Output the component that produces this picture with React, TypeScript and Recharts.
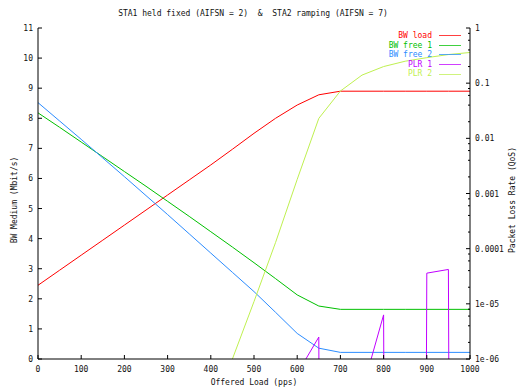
import React from "react";
import { LineChart, Line, XAxis, YAxis, Legend } from "recharts";

// offered load steps (pps)
const loads = [0, 50, 100, 150, 200, 250, 300, 350, 400, 450, 500, 550, 600, 650, 700, 750, 800, 850, 900, 950, 1000];

// left axis, Mbit/s
const bwLoad = [2.45, 2.95, 3.45, 3.95, 4.45, 4.95, 5.45, 5.95, 6.45, 6.97, 7.5, 8.0, 8.44, 8.78, 8.9, 8.9, 8.9, 8.9, 8.9, 8.9, 8.9];
const bwFree1 = [8.18, 7.7, 7.21, 6.72, 6.23, 5.74, 5.24, 4.74, 4.23, 3.72, 3.2, 2.67, 2.13, 1.76, 1.65, 1.65, 1.65, 1.65, 1.65, 1.65, 1.65];
const bwFree2 = [8.52, 7.91, 7.3, 6.68, 6.06, 5.43, 4.8, 4.16, 3.52, 2.88, 2.24, 1.55, 0.85, 0.36, 0.22, 0.22, 0.22, 0.22, 0.22, 0.22, 0.22];

// right axis, packet loss rate (log). ~zero loss falls far below the axis floor
const NO_LOSS = 1e-100;
const plr1 = [null, null, null, null, null, null, null, null, null, null, null, null, 5.4e-7, 2.5e-6, NO_LOSS, 2.6e-7, 6.3e-6, NO_LOSS, 3.6e-5, 4.2e-5, NO_LOSS];
const plr2 = [null, null, null, null, null, null, null, null, null, 1e-6, 1.1e-5, 1.3e-4, 1.8e-3, 0.023, 0.072, 0.14, 0.2, 0.25, 0.29, 0.33, 0.36];

const xTicks = [0, 100, 200, 300, 400, 500, 600, 700, 800, 900, 1000];
const bwTicks = [0, 1, 2, 3, 4, 5, 6, 7, 8, 9, 10, 11];
const plrMajor = [1, 0.1, 0.01, 0.001, 0.0001, 0.00001, 0.000001];
const plrMajorLabels = ["1", "0.1", "0.01", "0.001", "0.0001", "1e-05", "1e-06"];
const plrMinorSteps = [2, 4, 6, 8];
const plrMinor = plrMajor.slice(1).flatMap((d) => plrMinorSteps.map((m) => m * d));

const seriesOrder = ["BW load", "BW free 1", "BW free 2", "PLR 1", "PLR 2"];
const seriesColors = ["#ff0000", "#00c000", "#2b8cff", "#c000ff", "#bff050"];

const data = loads.map((load, i) => ({
  load,
  bwLoad: bwLoad[i],
  bwFree1: bwFree1[i],
  bwFree2: bwFree2[i],
  plr1: plr1[i],
  plr2: plr2[i],
}));

const FONT = "'DejaVu Sans Mono', monospace";
const TXT = "#111";

const LeftTick = ({ x, y, payload }: any) => (
  <g>
    <line x1={x} x2={x + 4} y1={y} y2={y} stroke="#000" />
    <text x={x - 5} y={y + 3} textAnchor="end" fontFamily={FONT} fontSize={8} fill={TXT}>
      {payload.value}
    </text>
  </g>
);

const RightTick = ({ x, y, payload }: any) => {
  const idx = plrMajor.indexOf(payload.value);
  const len = idx >= 0 ? 4 : 2;
  return (
    <g>
      <line x1={x - len} x2={x} y1={y} y2={y} stroke="#000" />
      {idx >= 0 && (
        <text x={x + 5} y={y + 3} textAnchor="start" fontFamily={FONT} fontSize={8} fill={TXT}>
          {plrMajorLabels[idx]}
        </text>
      )}
    </g>
  );
};

const BottomTick = ({ x, y, payload }: any) => (
  <g>
    <line x1={x} x2={x} y1={y} y2={y - 4} stroke="#000" />
    <text x={x} y={y + 13} textAnchor="middle" fontFamily={FONT} fontSize={8} fill={TXT}>
      {payload.value}
    </text>
  </g>
);

const TopTick = ({ x, y }: any) => <line x1={x} x2={x} y1={y} y2={y + 4} stroke="#000" />;

const renderLegend = ({ payload }: any) => {
  const items = [...(payload || [])].sort(
    (a: any, b: any) => seriesOrder.indexOf(a.value) - seriesOrder.indexOf(b.value)
  );
  return (
    <div style={{ fontFamily: FONT, fontSize: 8 }}>
      {items.map((entry: any) => {
        const color = seriesColors[seriesOrder.indexOf(entry.value)] || entry.color;
        return (
          <div
            key={entry.value}
            style={{ display: "flex", justifyContent: "flex-end", alignItems: "center", height: 9.6 }}
          >
            <span style={{ color, lineHeight: "9.6px", whiteSpace: "pre" }}>{entry.value}</span>
            <div style={{ marginLeft: 7, width: 22, height: 1, background: color, opacity: 0.75 }} />
          </div>
        );
      })}
    </div>
  );
};

const textStyle: React.CSSProperties = {
  position: "absolute",
  fontFamily: FONT,
  fontSize: 8,
  color: TXT,
  whiteSpace: "pre",
  lineHeight: "10px",
};

export default function App() {
  return (
    <div style={{ position: "absolute", left: 0, top: 0, width: 524, height: 392, background: "#fff" }}>
      <LineChart width={524} height={392} data={data} margin={{ top: 28, right: 0, bottom: 0, left: 0 }}>
        <XAxis
          dataKey="load"
          type="number"
          domain={[0, 1000]}
          ticks={xTicks}
          interval={0}
          height={33}
          tickSize={0}
          tickMargin={0}
          tickLine={false}
          tick={<BottomTick />}
          axisLine={{ stroke: "#000" }}
        />
        <XAxis
          xAxisId="top"
          orientation="top"
          type="number"
          domain={[0, 1000]}
          allowDataOverflow
          ticks={xTicks}
          interval={0}
          height={0}
          tickSize={0}
          tickMargin={0}
          tickLine={false}
          tick={<TopTick />}
          axisLine={{ stroke: "#000" }}
        />
        <YAxis
          yAxisId="left"
          type="number"
          domain={[0, 11]}
          ticks={bwTicks}
          interval={0}
          width={38}
          tickSize={0}
          tickMargin={0}
          tickLine={false}
          tick={<LeftTick />}
          axisLine={{ stroke: "#000" }}
        />
        <YAxis
          yAxisId="right"
          orientation="right"
          type="number"
          scale="log"
          domain={[1e-6, 1]}
          allowDataOverflow
          ticks={[...plrMajor, ...plrMinor]}
          interval={0}
          width={54}
          tickSize={0}
          tickMargin={0}
          tickLine={false}
          tick={<RightTick />}
          axisLine={{ stroke: "#000" }}
        />
        <Legend
          layout="vertical"
          align="center"
          verticalAlign="middle"
          wrapperStyle={{ top: 31, left: 300, width: 161, height: "auto" }}
          content={renderLegend}
        />
        <Line yAxisId="left" dataKey="bwLoad" name="BW load" stroke={seriesColors[0]} strokeWidth={1} dot={false} activeDot={false} isAnimationActive={false} />
        <Line yAxisId="left" dataKey="bwFree1" name="BW free 1" stroke={seriesColors[1]} strokeWidth={1} dot={false} activeDot={false} isAnimationActive={false} />
        <Line yAxisId="left" dataKey="bwFree2" name="BW free 2" stroke={seriesColors[2]} strokeWidth={1} dot={false} activeDot={false} isAnimationActive={false} />
        <Line yAxisId="right" dataKey="plr1" name="PLR 1" stroke={seriesColors[3]} strokeWidth={1} dot={false} activeDot={false} isAnimationActive={false} />
        <Line yAxisId="right" dataKey="plr2" name="PLR 2" stroke={seriesColors[4]} strokeWidth={1} dot={false} activeDot={false} isAnimationActive={false} />
      </LineChart>
      <div style={{ ...textStyle, left: 253, top: 14, transform: "translate(-50%, -50%)" }}>
        STA1 held fixed (AIFSN = 2)  &amp;  STA2 ramping (AIFSN = 7)
      </div>
      <div style={{ ...textStyle, left: 254, top: 383, transform: "translate(-50%, -50%)" }}>Offered Load (pps)</div>
      <div style={{ ...textStyle, left: 15, top: 200, transform: "translate(-50%, -50%) rotate(-90deg)" }}>
        BW Medium (Mbit/s)
      </div>
      <div style={{ ...textStyle, left: 513, top: 200, transform: "translate(-50%, -50%) rotate(-90deg)" }}>
        Packet Loss Rate (QoS)
      </div>
    </div>
  );
}
